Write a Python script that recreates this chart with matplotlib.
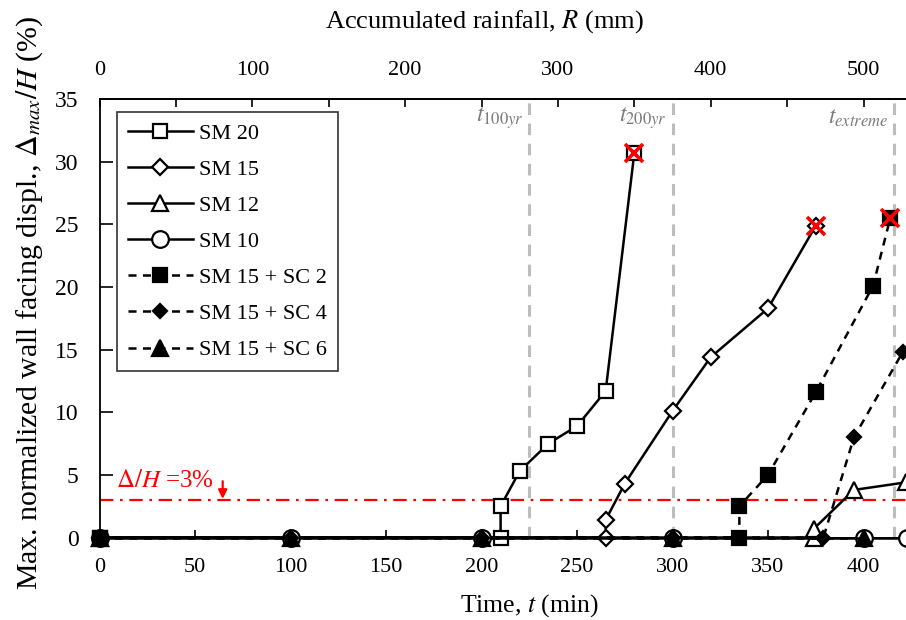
import matplotlib
matplotlib.use("Agg")
import matplotlib.pyplot as plt
from matplotlib.ticker import MultipleLocator, FixedLocator

plt.rcParams['font.family'] = ['Liberation Serif', 'DejaVu Serif']
plt.rcParams['mathtext.fontset'] = 'stix'

# Time (min) and max. normalized wall facing displacement (%) per model
t_sm20 = [0, 210, 210, 220, 235, 250, 265, 280]
d_sm20 = [0, 0, 2.5, 5.3, 7.5, 8.9, 11.7, 30.7]

t_sm15 = [0, 265, 265, 275, 300, 320, 350, 375]
d_sm15 = [0, 0, 1.4, 4.3, 10.1, 14.4, 18.3, 24.9]

t_sm12 = [0, 374, 374, 395, 422]
d_sm12 = [0, 0, 0.7, 3.8, 4.4]

t_sm10 = [0, 100, 200, 300, 400, 423]
d_sm10 = [0, 0, 0, 0, 0, 0]

t_sc2 = [0, 335, 335, 350, 375, 405, 414]
d_sc2 = [0, 0, 2.5, 5.0, 11.6, 20.1, 25.5]

t_sc4 = [0, 100, 200, 300, 379, 395, 420.5]
d_sc4 = [0, 0, 0, 0, 0, 8.0, 14.8]

t_sc6 = [0, 100, 200, 300, 400]
d_sc6 = [0, 0, 0, 0, 0]

# Failure points
fail_t = [280, 375, 414]
fail_d = [30.7, 24.9, 25.5]

# Rainfall return-period times (min)
event_times = [225, 300, 416]
event_labels = [r'$t_{100yr}$', r'$t_{200yr}$', r'$t_{extreme}$']

threshold = 3.0
rain_rate = 1.25  # mm per min

time_ticks = [0, 50, 100, 150, 200, 250, 300, 350, 400]
rain_ticks = [0, 100, 200, 300, 400, 500]
rain_minor = [50, 150, 250, 350, 450, 550]

fig = plt.figure(figsize=(9.06, 6.2), dpi=100)
ax = fig.add_axes([99.5 / 906, 82.5 / 620, 440 * 1.91 / 906, 438.2 / 620])

solid = '-'
dashed = (0, (3.2, 2.6))
common = dict(color='black', lw=1.8, clip_on=False, mew=1.6)

ax.plot(t_sm20, d_sm20, ls=solid, marker='s', ms=10.5, mfc='white', label='SM 20', zorder=5, **common)
ax.plot(t_sm15, d_sm15, ls=solid, marker='D', ms=8.5, mfc='white', label='SM 15', zorder=5, **common)
ax.plot(t_sm12, d_sm12, ls=solid, marker='^', ms=11, mfc='white', label='SM 12', zorder=5, **common)
ax.plot(t_sm10, d_sm10, ls=solid, marker='o', ms=12, mfc='white', label='SM 10', zorder=5, **common)
ax.plot(t_sc2, d_sc2, ls=dashed, marker='s', ms=10.5, mfc='black', label='SM 15 + SC 2', zorder=6, **common)
ax.plot(t_sc4, d_sc4, ls=dashed, marker='D', ms=7.5, mfc='black', label='SM 15 + SC 4', zorder=6, **common)
ax.plot(t_sc6, d_sc6, ls=dashed, marker='^', ms=11, mfc='black', label='SM 15 + SC 6', zorder=6, **common)

ax.plot(fail_t, fail_d, ls='none', marker='x', ms=13, mew=2.6, color='red', zorder=8, clip_on=False)

# Return-period markers
for tx, lab in zip(event_times, event_labels):
    ax.axvline(tx, color='#bdbdbd', lw=2.2, ls=(0, (3.8, 2.8)), zorder=1)
    ax.text(tx - 3, 33.5, lab, color='#7a7a7a', fontsize=17, ha='right', va='center')

# Allowable displacement threshold
ax.axhline(threshold, color='red', lw=1.6, ls=(0, (6, 3, 1.2, 3)), zorder=2)
ax.text(8.5, threshold + 1.55, r'$\Delta/H$ =3%', color='red', fontsize=18, ha='left', va='center')
ax.annotate('', xy=(64.5, threshold + 0.08), xytext=(64.5, threshold + 1.5),
            arrowprops=dict(arrowstyle='-|>', color='red', lw=1.6, mutation_scale=13,
                            shrinkA=0, shrinkB=0))

ax.set_xlim(0, 440)
ax.set_ylim(0, 35)
ax.xaxis.set_major_locator(FixedLocator(time_ticks))
ax.yaxis.set_major_locator(MultipleLocator(5))
ax.tick_params(axis='x', direction='in', length=6, width=1.2, pad=15, labelsize=16)
ax.tick_params(axis='y', direction='in', length=9, width=1.2, pad=15, labelsize=17)
for s in ax.spines.values():
    s.set_linewidth(1.3)

top = ax.secondary_xaxis('top', functions=(lambda t: t * rain_rate, lambda r: r / rain_rate))
top.xaxis.set_major_locator(FixedLocator(rain_ticks))
top.xaxis.set_minor_locator(FixedLocator(rain_minor))
top.tick_params(which='both', direction='in', length=6, width=1.2, pad=14, labelsize=16)
top.spines['top'].set_linewidth(1.3)

fig.text(484 / 906, 1 - 22 / 620, 'Accumulated rainfall, $R$ (mm)', fontsize=19, ha='center', va='center')
fig.text(529 / 906, 1 - 606 / 620, 'Time, $t$ (min)', fontsize=18.5, ha='center', va='center')
fig.text(30 / 906, 1 - 303 / 620, r'Max. normalized wall facing displ., $\Delta_{max}/H$ (%)',
         fontsize=21.5, ha='center', va='center', rotation=90)

leg = ax.legend(loc='upper left', bbox_to_anchor=(0.0208, 0.971), borderaxespad=0,
                fontsize=16, frameon=True, fancybox=False, edgecolor='black',
                handlelength=2.9, labelspacing=0.70, borderpad=0.5, handletextpad=0.3)
leg.get_frame().set_linewidth(1.2)
leg.set_zorder(10)

fig.savefig('out.png', dpi=100)
